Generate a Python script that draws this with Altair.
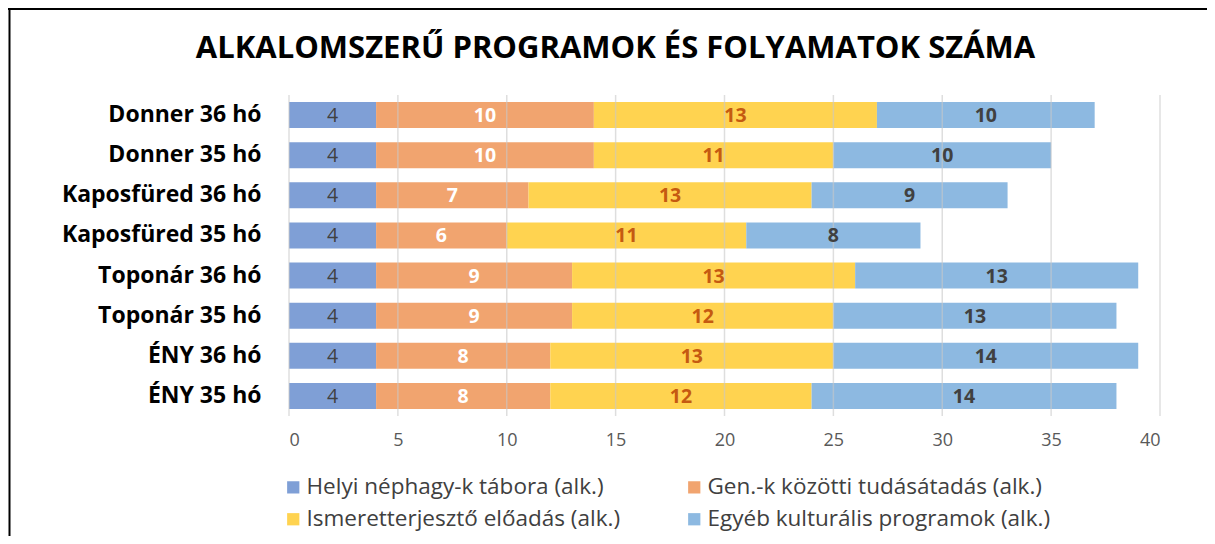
import altair as alt
import pandas as pd

title = "ALKALOMSZERŰ PROGRAMOK ÉS FOLYAMATOK SZÁMA"
categories = ["Donner 36 hó", "Donner 35 hó", "Kaposfüred 36 hó", "Kaposfüred 35 hó",
              "Toponár 36 hó", "Toponár 35 hó", "ÉNY 36 hó", "ÉNY 35 hó"]
series = ["Helyi néphagy-k tábora (alk.)", "Gen.-k közötti tudásátadás (alk.)",
          "Ismeretterjesztő előadás (alk.)", "Egyéb kulturális programok (alk.)"]
helyi = [4, 4, 4, 4, 4, 4, 4, 4]
gen = [10, 10, 7, 6, 9, 9, 8, 8]
ismeret = [13, 11, 13, 11, 13, 12, 13, 12]
egyeb = [10, 10, 9, 8, 13, 13, 14, 14]
grid_ticks = [0, 5, 10, 15, 20, 25, 30, 35, 40]

colors = ["#7F9FD6", "#F1A46F", "#FFD350", "#8DB9E1"]
label_colors = ["#404040", "#FFFFFF", "#C55A11", "#404040"]
label_weights = ["normal", "bold", "bold", "bold"]

rows = []
for i, c in enumerate(categories):
    start = 0
    for s, vals in zip(series, [helyi, gen, ismeret, egyeb]):
        v = vals[i]
        rows.append({"cat": c, "series": s, "value": v, "start": start,
                     "end": start + v, "mid": start + v / 2})
        start += v
df = pd.DataFrame(rows)

# legend fills column by column: reorder so rows read Helyi/Gen, Ismeret/Egyeb
legend_order = [0, 2, 1, 3]
legend_domain = [series[i] for i in legend_order]
legend_range = [colors[i] for i in legend_order]

W, H = 871, 321
FONT = "Open Sans"

xscale = alt.Scale(domain=[0, 40], nice=False, zero=True)
yenc = alt.Y("cat:N", sort=categories, title=None,
             scale=alt.Scale(paddingInner=0.35, paddingOuter=0.175),
             axis=alt.Axis(labelFont=FONT, labelFontSize=23, labelFontWeight="bold",
                           labelColor="#000000", labelPadding=28, domain=False, ticks=False,
                           labelLimit=400))

bars = alt.Chart(df).mark_bar(opacity=1).encode(
    x=alt.X("start:Q", scale=xscale, title=None,
            axis=alt.Axis(values=grid_ticks, grid=False, domain=False, ticks=False,
                          labelFont=FONT, labelFontSize=18, labelColor="#595959",
                          labelPadding=15)),
    x2="end:Q",
    y=yenc,
    color=alt.Color("series:N",
                    scale=alt.Scale(domain=legend_domain, range=legend_range),
                    legend=alt.Legend(title=None, orient="none", legendX=-7, legendY=381,
                                      columns=2, symbolType="square", symbolSize=150,
                                      symbolStrokeWidth=0, labelFont=FONT, labelFontSize=22.5,
                                      labelColor="#404040", rowPadding=9, columnPadding=62,
                                      padding=0, labelOffset=2, labelLimit=500)),
)

grid_df = pd.DataFrame({"g": grid_ticks})
grid = alt.Chart(grid_df).mark_rule(color="#C8C8C8", strokeWidth=1.5, opacity=0.6).encode(
    x=alt.X("g:Q", scale=xscale),
    y=alt.value(0), y2=alt.value(H),
)

texts = []
for s, col, wt in zip(series, label_colors, label_weights):
    texts.append(
        alt.Chart(df).transform_filter(alt.datum.series == s).mark_text(
            font=FONT, fontSize=19.5, fontWeight=wt, color=col, baseline="middle", dy=1
        ).encode(x=alt.X("mid:Q", scale=xscale), y=alt.Y("cat:N", sort=categories), text="value:Q")
    )

frame_df = pd.DataFrame({"a": [0]})
frame_left = alt.Chart(frame_df).mark_rule(color="#000000", strokeWidth=2).encode(
    x=alt.value(-279.5), y=alt.value(-87), y2=alt.value(H + 130))
frame_top = alt.Chart(frame_df).mark_rule(color="#000000", strokeWidth=2).encode(
    x=alt.value(-281), x2=alt.value(W + 50), y=alt.value(-86))

chart = alt.layer(bars, grid, *texts, frame_left, frame_top).properties(
    width=W, height=H,
    title=alt.TitleParams(title, font="Open Sans", fontSize=31, fontWeight="bold",
                          color="#000000", anchor="middle", dx=-109, offset=-82,
                          baseline="alphabetic"),
    autosize=alt.AutoSizeParams(type="none"),
    padding={"left": 281, "top": 87, "right": 47, "bottom": 120},
).configure_view(stroke=None)

chart.save("out.html", embed_options={"renderer": "svg", "actions": False})
